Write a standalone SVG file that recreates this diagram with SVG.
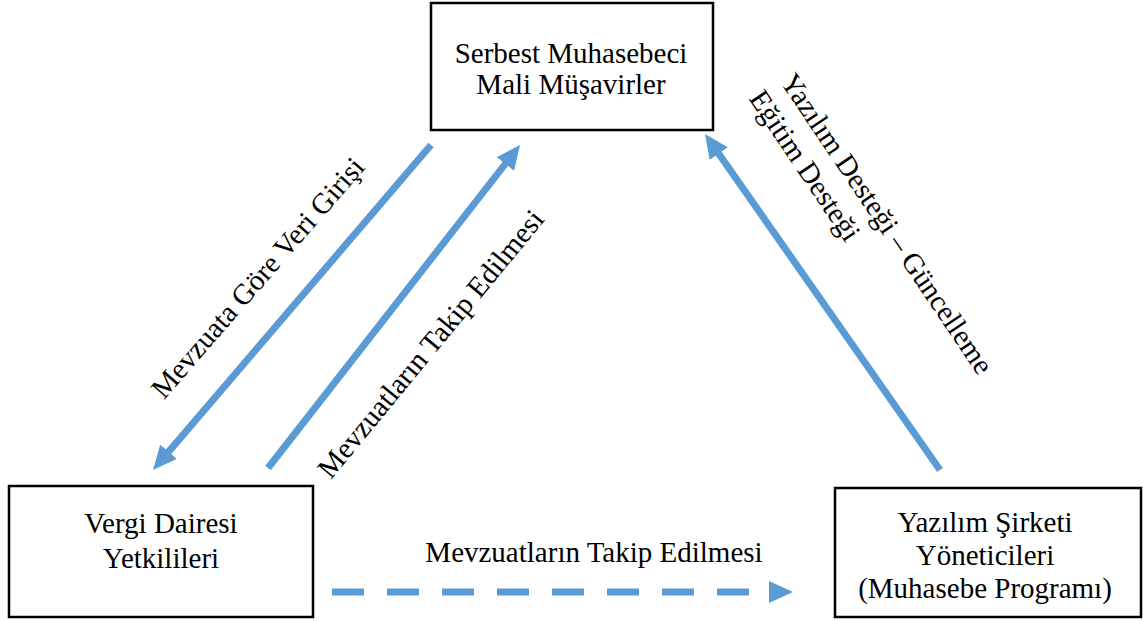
<svg xmlns="http://www.w3.org/2000/svg" width="1143" height="621" viewBox="0 0 1143 621">
<style>
.box{fill:#fff;stroke:#000;stroke-width:2.5}
.t{font-family:"Liberation Serif","Times New Roman",serif;font-size:29px;fill:#000;text-anchor:middle}
.arr{stroke:#5B9BD5;stroke-width:7;fill:none}
</style>
<defs>
<marker id="ah" markerUnits="userSpaceOnUse" markerWidth="26" markerHeight="24" refX="14" refY="11" orient="auto">
<path d="M0,0 L24,11 L0,22 z" fill="#5B9BD5"/>
</marker>
</defs>
<rect width="1143" height="621" fill="#fff"/>
<g id="connectors">
<line class="arr" x1="431" y1="145" x2="159.5" y2="462.4" marker-end="url(#ah)"/>
<line class="arr" x1="268" y1="468" x2="513.9" y2="152.9" marker-end="url(#ah)"/>
<line class="arr" x1="940" y1="470" x2="710.7" y2="142.2" marker-end="url(#ah)"/>
<line class="arr" x1="332" y1="592" x2="783" y2="592" stroke-dasharray="32 23" marker-end="url(#ah)"/>
<text class="t" transform="translate(265,284) rotate(-49)">Mevzuata Göre Veri Girişi</text>
<text class="t" transform="translate(438,350) rotate(-50.5)">Mevzuatların Takip Edilmesi</text>
<text class="t" transform="translate(879,229) rotate(56)">Yazılım Desteği – Güncelleme</text>
<text class="t" transform="translate(797,171) rotate(56)">Eğitim Desteği</text>
<text class="t" x="594" y="562">Mevzuatların Takip Edilmesi</text>
</g>
<g id="node-smmm">
<rect class="box" x="431" y="3" width="282" height="127"/>
<text class="t" x="571" y="63">Serbest Muhasebeci</text>
<text class="t" x="571" y="94">Mali Müşavirler</text>
</g>
<g id="node-vergi">
<rect class="box" x="9" y="486" width="304" height="131"/>
<text class="t" x="161" y="533">Vergi Dairesi</text>
<text class="t" x="161" y="568">Yetkilileri</text>
</g>
<g id="node-yazilim">
<rect class="box" x="835" y="488" width="306" height="129"/>
<text class="t" x="985" y="532">Yazılım Şirketi</text>
<text class="t" x="985" y="565">Yöneticileri</text>
<text class="t" x="985" y="598">(Muhasebe Programı)</text>
</g>
</svg>
